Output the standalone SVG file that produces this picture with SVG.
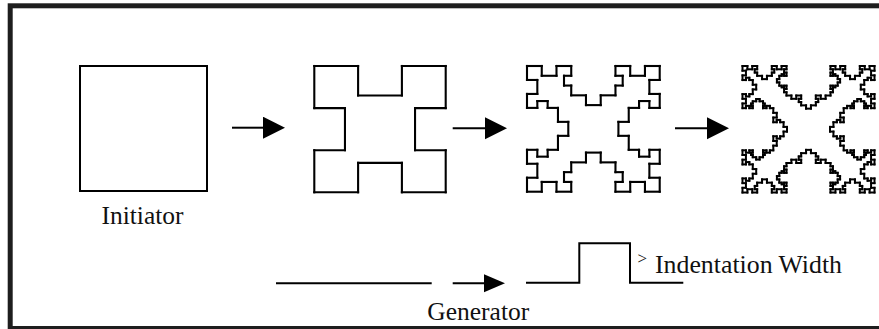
<svg xmlns="http://www.w3.org/2000/svg" width="879" height="329" viewBox="0 0 879 329">
<style>
.frame{fill:none;stroke:#1e1e1e;stroke-width:5}
.ln{fill:none;stroke:#000;stroke-width:2}
.frac{fill:none;stroke:#000;stroke-linecap:square}
text{font-family:'Liberation Serif','Times New Roman',serif;fill:#111}
</style>
<defs>
<marker id="ah" markerUnits="userSpaceOnUse" markerWidth="24" markerHeight="24" refX="1" refY="11" orient="auto" viewBox="0 0 24 24"><path d="M0,0L22,11L0,22Z" fill="#000"/></marker>
<marker id="ahs" markerUnits="userSpaceOnUse" markerWidth="24" markerHeight="24" refX="1" refY="9" orient="auto" viewBox="0 0 24 24"><path d="M0,0L21,9L0,18Z" fill="#000"/></marker>
<path id="k0" d="M0,0H1" vector-effect="non-scaling-stroke"/>
<g id="k1">
<use href="#k0" transform="matrix(0.333333,0,0,0.333333,0,0)"/>
<use href="#k0" transform="matrix(0,0.233333,-0.233333,0,0.333333,0)"/>
<use href="#k0" transform="matrix(0.333333,0,0,0.333333,0.333333,0.233333)"/>
<use href="#k0" transform="matrix(0,-0.233333,0.233333,0,0.666667,0.233333)"/>
<use href="#k0" transform="matrix(0.333333,0,0,0.333333,0.666667,0)"/>
</g>
<g id="k2">
<use href="#k1" transform="matrix(0.333333,0,0,0.333333,0,0)"/>
<use href="#k1" transform="matrix(0,0.233333,-0.233333,0,0.333333,0)"/>
<use href="#k1" transform="matrix(0.333333,0,0,0.333333,0.333333,0.233333)"/>
<use href="#k1" transform="matrix(0,-0.233333,0.233333,0,0.666667,0.233333)"/>
<use href="#k1" transform="matrix(0.333333,0,0,0.333333,0.666667,0)"/>
</g>
<g id="k3">
<use href="#k2" transform="matrix(0.333333,0,0,0.333333,0,0)"/>
<use href="#k2" transform="matrix(0,0.233333,-0.233333,0,0.333333,0)"/>
<use href="#k2" transform="matrix(0.333333,0,0,0.333333,0.333333,0.233333)"/>
<use href="#k2" transform="matrix(0,-0.233333,0.233333,0,0.666667,0.233333)"/>
<use href="#k2" transform="matrix(0.333333,0,0,0.333333,0.666667,0)"/>
</g>
<g id="sq1">
<use href="#k1"/>
<use href="#k1" transform="matrix(0,1,-1,0,1,0)"/>
<use href="#k1" transform="matrix(-1,0,0,-1,1,1)"/>
<use href="#k1" transform="matrix(0,-1,1,0,0,1)"/>
</g>
<g id="sq2">
<use href="#k2"/>
<use href="#k2" transform="matrix(0,1,-1,0,1,0)"/>
<use href="#k2" transform="matrix(-1,0,0,-1,1,1)"/>
<use href="#k2" transform="matrix(0,-1,1,0,0,1)"/>
</g>
<g id="sq3">
<use href="#k3"/>
<use href="#k3" transform="matrix(0,1,-1,0,1,0)"/>
<use href="#k3" transform="matrix(-1,0,0,-1,1,1)"/>
<use href="#k3" transform="matrix(0,-1,1,0,0,1)"/>
</g>
</defs>
<rect class="frame" x="10.2" y="5.8" width="900" height="322.7"/>
<g id="initiator">
<rect class="ln" x="80" y="66" width="127" height="125"/>
<text x="101.5" y="224.3" font-size="24.5" textLength="82" lengthAdjust="spacingAndGlyphs">Initiator</text>
</g>
<g id="iteration1" class="frac" stroke-width="2.1">
<g transform="translate(314.3,66) scale(131.4,126.3)"><use href="#sq1"/></g>
</g>
<g id="iteration2" class="frac" stroke-width="2.1">
<g transform="translate(527,66) scale(132.7,125.7)"><use href="#sq2"/></g>
</g>
<g id="iteration3" class="frac" stroke-width="2">
<g transform="translate(742.5,66) scale(132,126.5)"><use href="#sq3"/></g>
</g>
<g id="generator">
<path class="ln" d="M276,283.3H431.7"/>
<path class="ln" d="M526,282.7H579.3V243.3H630V282.7H683.3"/>
<text x="637.5" y="264" font-size="17">&gt;</text>
<text x="655" y="273.3" font-size="24.5" textLength="187" lengthAdjust="spacingAndGlyphs">Indentation Width</text>
<text x="427.3" y="320" font-size="24.5" textLength="102" lengthAdjust="spacingAndGlyphs">Generator</text>
</g>
<g id="connectors">
<path class="ln" d="M232,127.7H264" marker-end="url(#ah)"/>
<path class="ln" d="M452.7,128.3H486" marker-end="url(#ah)"/>
<path class="ln" d="M675,128.3H708" marker-end="url(#ah)"/>
<path class="ln" d="M452.7,283.3H485" marker-end="url(#ahs)"/>
</g>
</svg>
